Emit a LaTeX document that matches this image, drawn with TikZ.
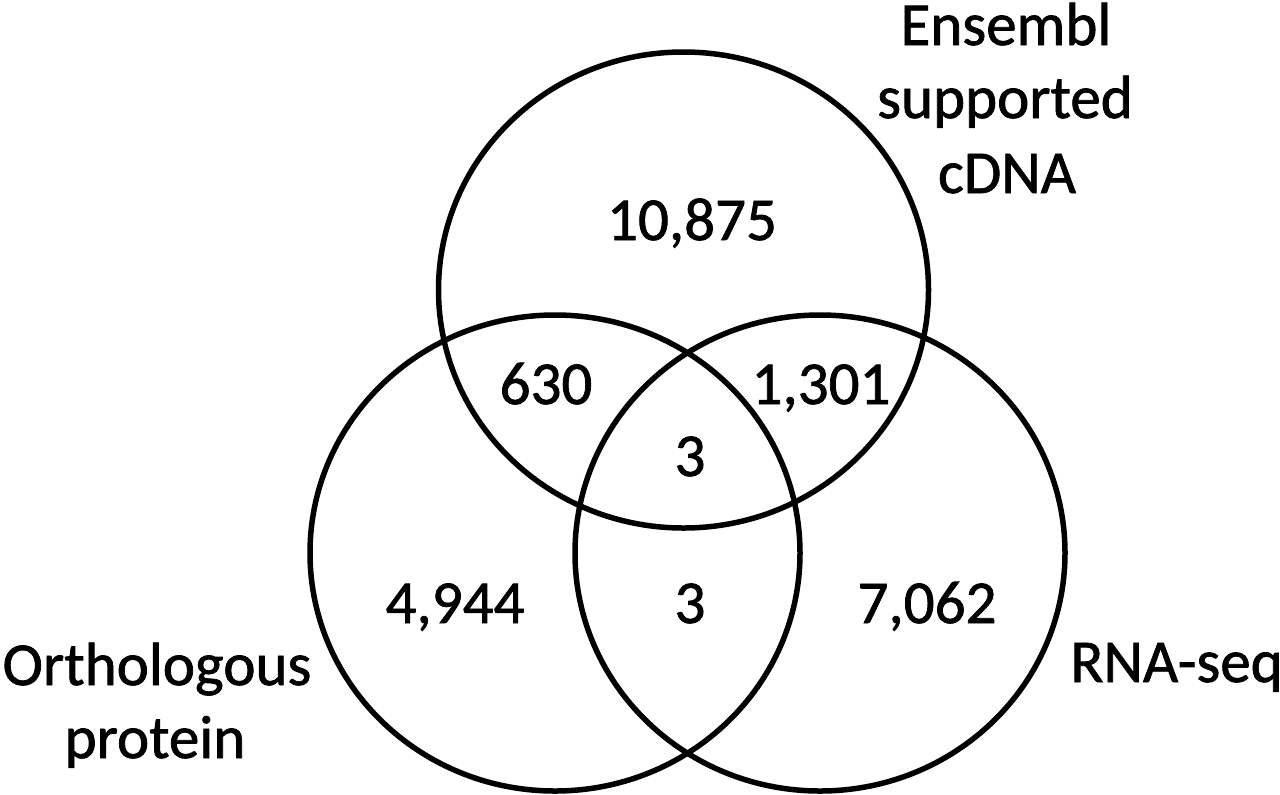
\documentclass[tikz,border=0pt]{standalone}
\usepackage{fontspec}
\setmainfont[FakeBold=1.2,AutoFakeBold=1.2]{Carlito}
\newfontfamily\vennfont[FakeBold=1.2]{Carlito}
\begin{document}
\begin{tikzpicture}[x=0.5pt,y=-0.5pt,
  venn/.style={line width=2.75pt,draw=black},
  lbl/.style={anchor=base,inner sep=0pt,font=\vennfont\fontsize{30.5}{37}\selectfont}]
\useasboundingbox (0,0) rectangle (1280,794);
\clip (0,0) rectangle (1280,794);
\fill[white] (0,0) rectangle (1280,794);
\draw[venn] (683.5,290) ellipse [x radius=245, y radius=238];
\draw[venn] (555,553) ellipse [x radius=245, y radius=238];
\draw[venn] (820,553) ellipse [x radius=245, y radius=238];
\node[lbl] (e1) at (1006,45) {Ensembl};
\node[lbl] (e2) at (1005,118) {supported};
\node[lbl] (e3) at (1007,193) {cDNA};
\node[lbl] (o1) at (157,685) {Orthologous};
\node[lbl] (o2) at (155,758) {protein};
\node[lbl,anchor=base west] (r1) at (1070,682) {RNA-seq};
\node[lbl] (n1) at (692,240) {10,875};
\node[lbl] (n2) at (546,404) {630};
\node[lbl] (n3) at (821,404) {1,301};
\node[lbl] (n4) at (690,476) {3};
\node[lbl] (n5) at (455,623) {4,944};
\node[lbl] (n6) at (690,623) {3};
\node[lbl] (n7) at (927,623) {7,062};
\end{tikzpicture}
\end{document}
